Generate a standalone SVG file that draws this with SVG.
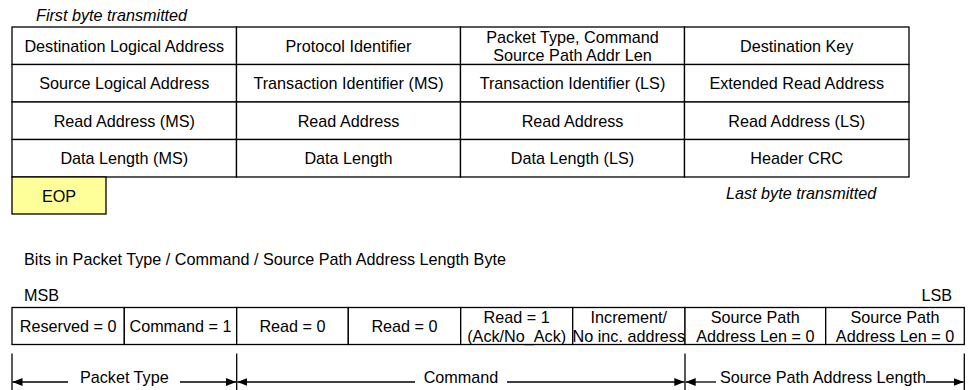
<svg xmlns="http://www.w3.org/2000/svg" width="968" height="390" viewBox="0 0 968 390">
<style>
text{font-family:"Liberation Sans",Arial,sans-serif;font-size:16.2px;fill:#000}
.c{text-anchor:middle}
.i{font-style:italic}
.cell{fill:#fff;stroke:#000;stroke-width:1.3}
.eop{fill:#ffff99;stroke:#000;stroke-width:1.3}
.ln{stroke:#000;stroke-width:1.3;fill:none}
</style>
<defs>
<marker id="ah" markerUnits="userSpaceOnUse" markerWidth="11" markerHeight="8" refX="10" refY="4" orient="auto-start-reverse" viewBox="0 0 11 8">
<path d="M0,0 L10,4 L0,8 z" fill="#000"/>
</marker>
</defs>
<rect width="968" height="390" fill="#fff"/>
<text id="first" class="i" x="36" y="21">First byte transmitted</text>
<g id="row1">
<g id="dla"><rect class="cell" x="12" y="27" width="224.5" height="37.5"/><text class="c" x="124.3" y="51.5">Destination Logical Address</text></g>
<g id="pid"><rect class="cell" x="236.5" y="27" width="224" height="37.5"/><text class="c" x="348.5" y="51.5">Protocol Identifier</text></g>
<g id="ptc"><rect class="cell" x="460.5" y="27" width="224" height="37.5"/><text class="c" x="572.5" y="43">Packet Type, Command</text><text class="c" x="572.5" y="60.5">Source Path Addr Len</text></g>
<g id="dk"><rect class="cell" x="684.5" y="27" width="224.5" height="37.5"/><text class="c" x="796.7" y="51.5">Destination Key</text></g>
</g>
<g id="row2">
<g id="sla"><rect class="cell" x="12" y="64.5" width="224.5" height="37.5"/><text class="c" x="124.3" y="89">Source Logical Address</text></g>
<g id="tims"><rect class="cell" x="236.5" y="64.5" width="224" height="37.5"/><text class="c" x="348.5" y="89">Transaction Identifier (MS)</text></g>
<g id="tils"><rect class="cell" x="460.5" y="64.5" width="224" height="37.5"/><text class="c" x="572.5" y="89">Transaction Identifier (LS)</text></g>
<g id="era"><rect class="cell" x="684.5" y="64.5" width="224.5" height="37.5"/><text class="c" x="796.7" y="89">Extended Read Address</text></g>
</g>
<g id="row3">
<g id="rams"><rect class="cell" x="12" y="102" width="224.5" height="37.5"/><text class="c" x="124.3" y="126.5">Read Address (MS)</text></g>
<g id="ra1"><rect class="cell" x="236.5" y="102" width="224" height="37.5"/><text class="c" x="348.5" y="126.5">Read Address</text></g>
<g id="ra2"><rect class="cell" x="460.5" y="102" width="224" height="37.5"/><text class="c" x="572.5" y="126.5">Read Address</text></g>
<g id="rals"><rect class="cell" x="684.5" y="102" width="224.5" height="37.5"/><text class="c" x="796.7" y="126.5">Read Address (LS)</text></g>
</g>
<g id="row4">
<g id="dlms"><rect class="cell" x="12" y="139.5" width="224.5" height="37.5"/><text class="c" x="124.3" y="164">Data Length (MS)</text></g>
<g id="dl"><rect class="cell" x="236.5" y="139.5" width="224" height="37.5"/><text class="c" x="348.5" y="164">Data Length</text></g>
<g id="dlls"><rect class="cell" x="460.5" y="139.5" width="224" height="37.5"/><text class="c" x="572.5" y="164">Data Length (LS)</text></g>
<g id="crc"><rect class="cell" x="684.5" y="139.5" width="224.5" height="37.5"/><text class="c" x="796.7" y="164">Header CRC</text></g>
</g>
<g id="eop"><rect class="eop" x="12" y="177" width="94" height="37"/><text class="c" x="59" y="201.5">EOP</text></g>
<text id="last" class="i" x="726" y="198.5">Last byte transmitted</text>

<text id="bits" x="24" y="264.5">Bits in Packet Type / Command / Source Path Address Length Byte</text>
<text id="msb" x="24" y="301">MSB</text>
<text id="lsb" x="952" y="301" text-anchor="end">LSB</text>

<g id="bitrow">
<g id="b7"><rect class="cell" x="12" y="307.5" width="112.3" height="37"/><text class="c" x="68.2" y="332">Reserved = 0</text></g>
<g id="b6"><rect class="cell" x="124.3" y="307.5" width="112.4" height="37"/><text class="c" x="180.5" y="332">Command = 1</text></g>
<g id="b5"><rect class="cell" x="236.7" y="307.5" width="111.6" height="37"/><text class="c" x="292.5" y="332">Read = 0</text></g>
<g id="b4"><rect class="cell" x="348.3" y="307.5" width="112.4" height="37"/><text class="c" x="404.5" y="332">Read = 0</text></g>
<g id="b3"><rect class="cell" x="460.7" y="307.5" width="112" height="37"/><text class="c" x="516.7" y="322.5">Read = 1</text><text class="c" x="516.7" y="341.5">(Ack/No_Ack)</text></g>
<g id="b2"><rect class="cell" x="572.7" y="307.5" width="112.3" height="37"/><text class="c" x="628.8" y="322.5">Increment/</text><text class="c" x="628.8" y="341.5">No inc. address</text></g>
<g id="b1"><rect class="cell" x="685" y="307.5" width="140.7" height="37"/><text class="c" x="755.3" y="322.5">Source Path</text><text class="c" x="755.3" y="341.5">Address Len = 0</text></g>
<g id="b0"><rect class="cell" x="825.7" y="307.5" width="138.6" height="37"/><text class="c" x="895" y="322.5">Source Path</text><text class="c" x="895" y="341.5">Address Len = 0</text></g>
</g>

<g id="connectors">
<line class="ln" x1="12" y1="353.5" x2="12" y2="390"/>
<line class="ln" x1="236.7" y1="353.5" x2="236.7" y2="390"/>
<line class="ln" x1="685" y1="353.5" x2="685" y2="390"/>
<line class="ln" x1="964.3" y1="353.5" x2="964.3" y2="390"/>
<line class="ln" x1="68" y1="382" x2="12.5" y2="382" marker-end="url(#ah)"/>
<line class="ln" x1="180" y1="382" x2="236" y2="382" marker-end="url(#ah)"/>
<line class="ln" x1="415" y1="382" x2="237.4" y2="382" marker-end="url(#ah)"/>
<line class="ln" x1="507" y1="382" x2="684.3" y2="382" marker-end="url(#ah)"/>
<line class="ln" x1="716" y1="382" x2="685.7" y2="382" marker-end="url(#ah)"/>
<line class="ln" x1="926" y1="382" x2="963.6" y2="382" marker-end="url(#ah)"/>
</g>
<g id="labels">
<text class="c" x="124.3" y="383">Packet Type</text>
<text class="c" x="461" y="383">Command</text>
<text x="720" y="383">Source Path Address Length</text>
</g>
</svg>
